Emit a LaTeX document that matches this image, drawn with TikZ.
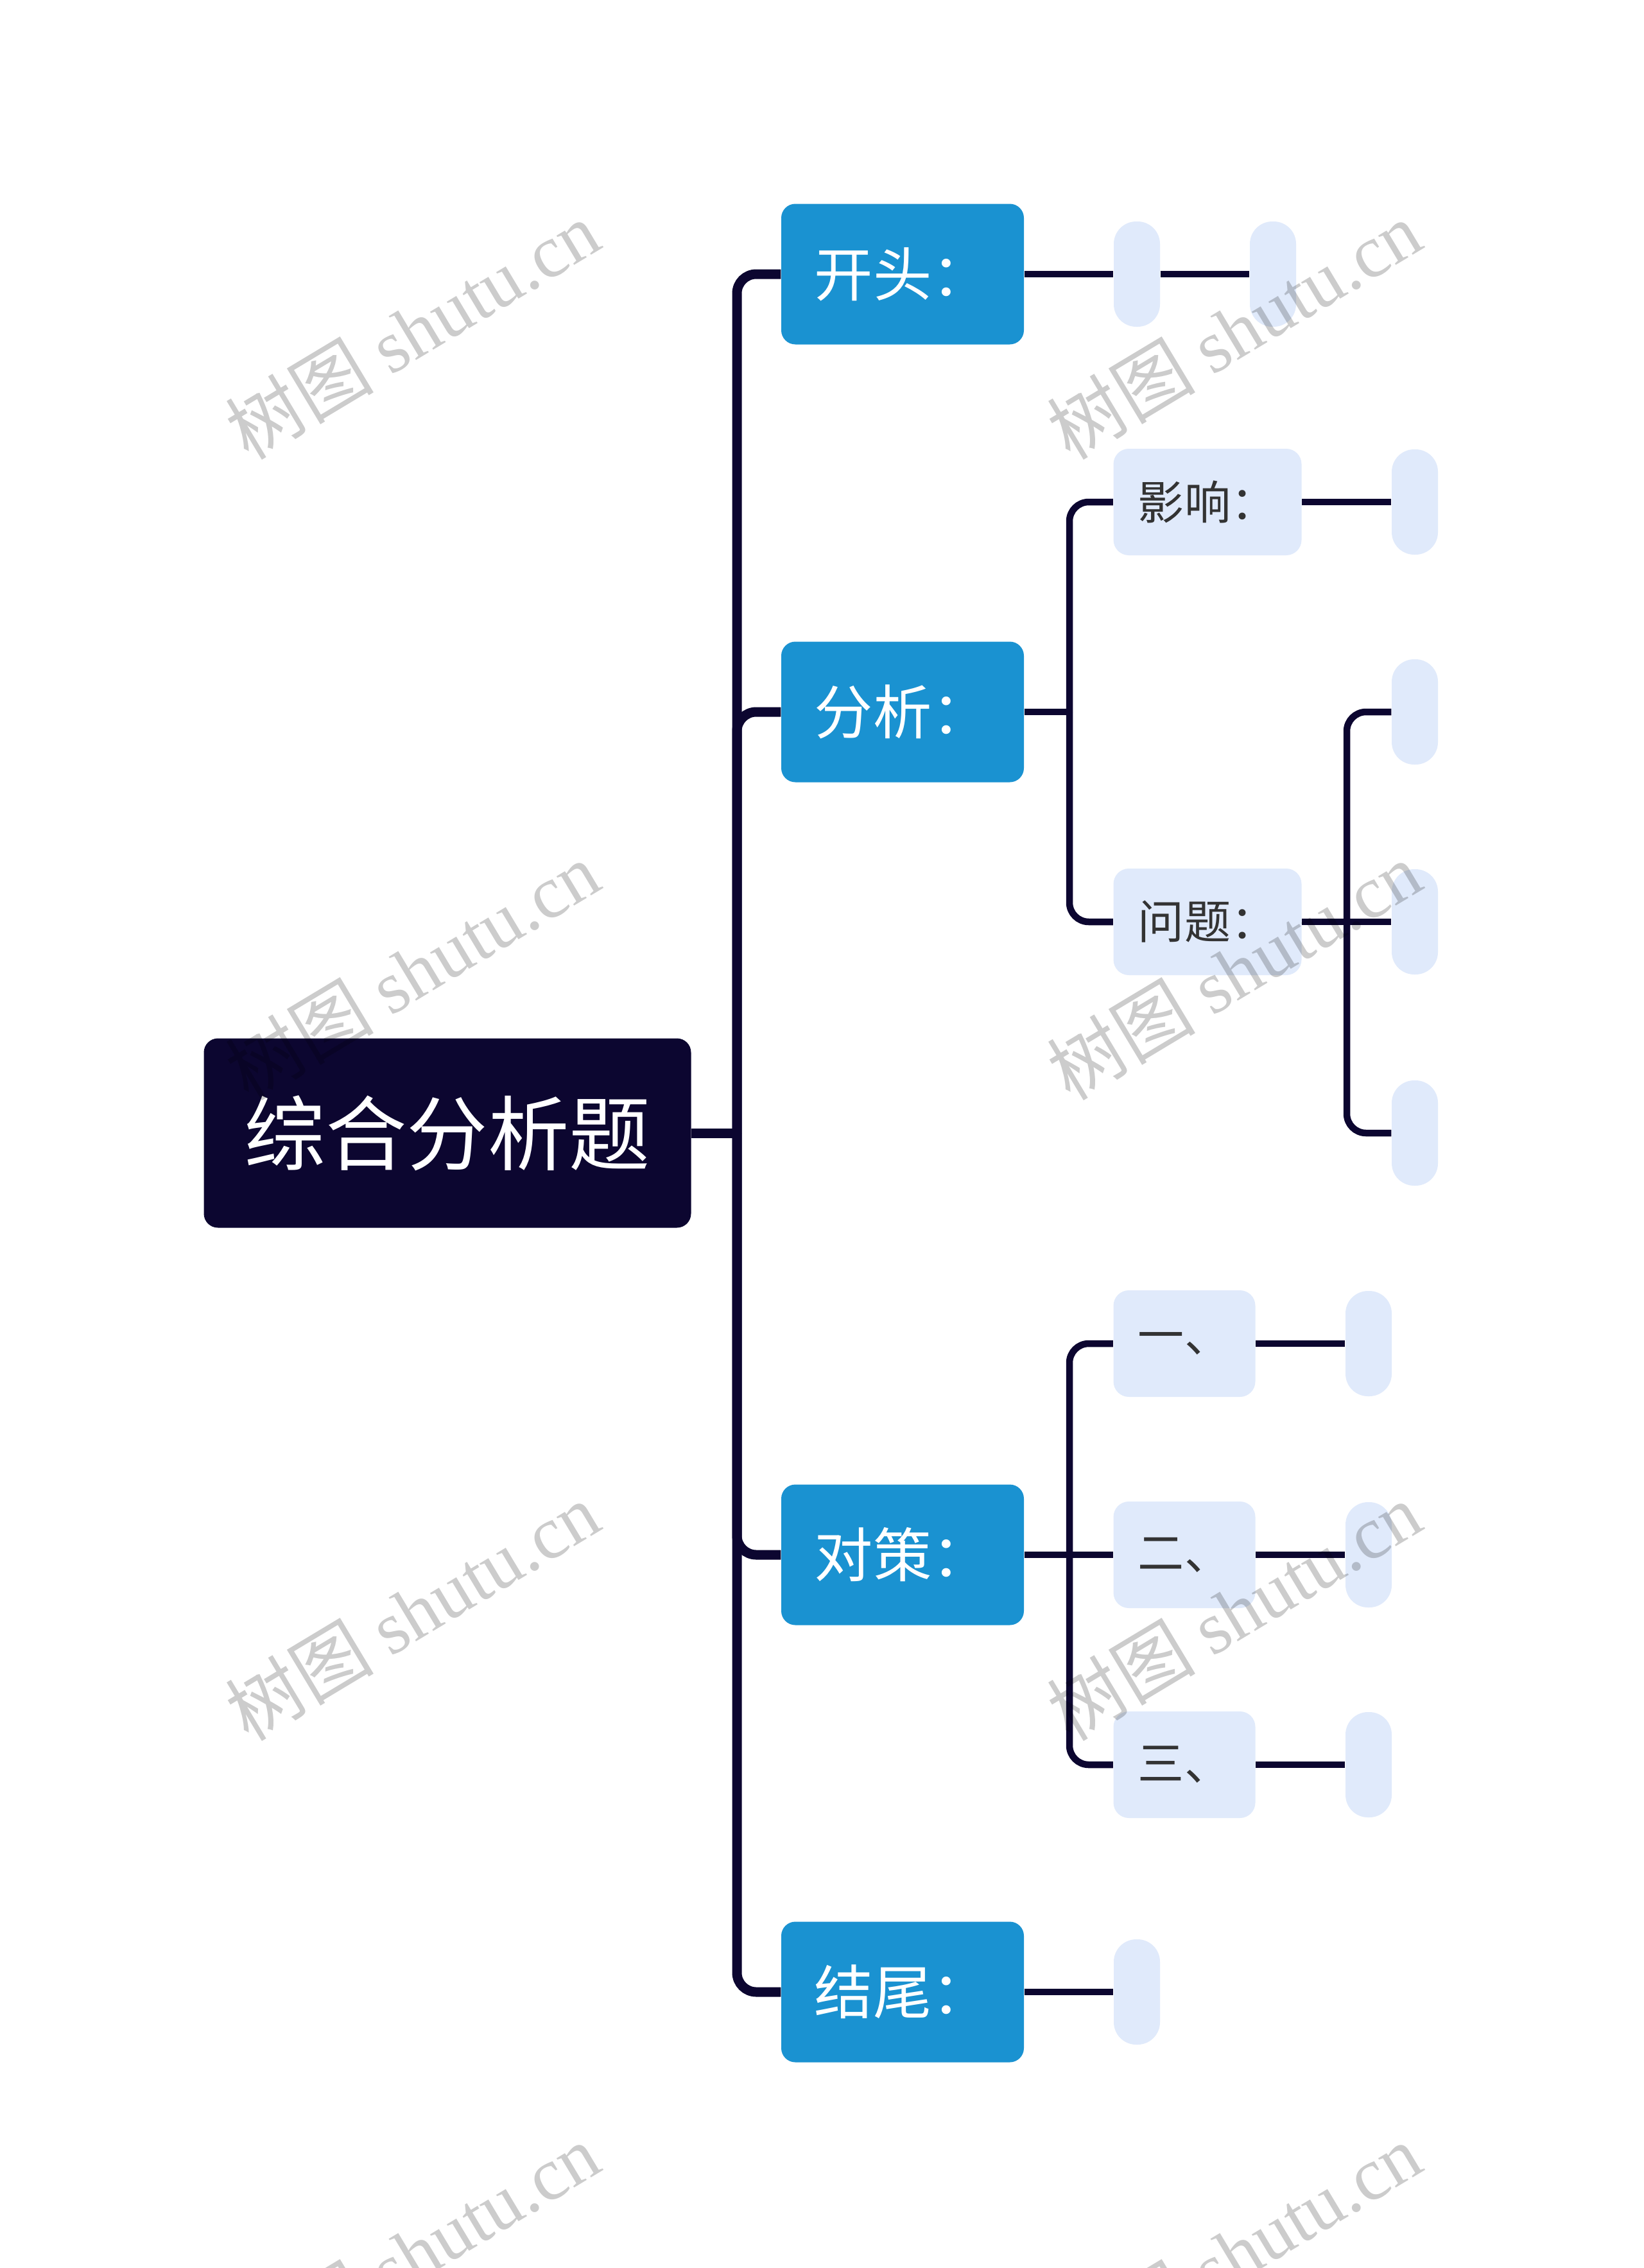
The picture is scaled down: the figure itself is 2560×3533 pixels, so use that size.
\documentclass[tikz,border=0pt]{standalone}
\usepackage{fontspec}
\setmainfont{Noto Sans CJK SC}
\newfontfamily\wmcjk{Noto Sans CJK SC}
\newfontfamily\wmlat{Liberation Serif}
\definecolor{dark}{HTML}{0C0630}
\definecolor{mainblue}{HTML}{1A92D1}
\definecolor{lightbox}{HTML}{E0EAFB}
\definecolor{subtext}{HTML}{333333}
\tikzset{
  rootbox/.style={fill=dark, rounded corners=2.2mm, minimum width=75.9mm, minimum height=29.5mm, inner sep=0pt, text=white, font=\fontsize{36}{40}\selectfont},
  lonebox/.style={fill=mainblue, rounded corners=2.2mm, minimum width=37.8mm, minimum height=21.9mm, inner sep=0pt, text=white, font=\fontsize{26}{30}\selectfont},
  ltwobox/.style={fill=lightbox, rounded corners=2.4mm, minimum height=16.6mm, inner sep=0pt, text=subtext, font=\fontsize{20.5}{24}\selectfont},
  emptybox/.style={fill=lightbox, rounded corners=3.5mm, minimum width=7.2mm, minimum height=16.4mm, inner sep=0pt},
  trunk/.style={draw=dark, line width=1.5mm},
  branch/.style={draw=dark, line width=1.05mm},
  wmark/.style={rotate=31, text=black, opacity=0.2, font=\fontsize{33}{38}\selectfont}
}
\begin{document}
\begin{tikzpicture}[x=0.1mm, y=-0.1mm]
\useasboundingbox[fill=white] (0,0) rectangle (2560,3533);

% root and level 1
\node[rootbox] (root) at (697,1765) {综合分析题};
\coordinate (t0) at (1148,1765);
\node[lonebox] (kt) at (1406,427) {开头：};
\node[lonebox] (fx) at (1406,1109) {分析：};
\node[lonebox] (dc) at (1406,2422) {对策：};
\node[lonebox] (jw) at (1406,3103) {结尾：};

\draw[trunk] (root.east) -- (t0);
\draw[trunk, rounded corners=3mm] (t0) |- (kt.west);
\draw[trunk, rounded corners=3mm] (t0) |- (fx.west);
\draw[trunk, rounded corners=3mm] (t0) |- (dc.west);
\draw[trunk, rounded corners=3mm] (t0) |- (jw.west);

% 开头
\node[emptybox] (kt1) at (1771,427) {};
\node[emptybox] (kt2) at (1983,427) {};
\draw[branch] (kt.east) -- (kt1.west);
\draw[branch] (kt1.east) -- (kt2.west);

% 分析
\coordinate (f0) at (1666,1109);
\node[ltwobox, minimum width=29.3mm] (yx) at (1881,782) {影响：};
\node[ltwobox, minimum width=29.3mm] (wt) at (1881,1436) {问题：};
\draw[branch] (fx.east) -- (f0);
\draw[branch, rounded corners=3mm] (f0) |- (yx.west);
\draw[branch, rounded corners=3mm] (f0) |- (wt.west);
\node[emptybox] (yx1) at (2204,782) {};
\draw[branch] (yx.east) -- (yx1.west);
\coordinate (w0) at (2098,1436);
\node[emptybox] (wt1) at (2204,1109) {};
\node[emptybox] (wt2) at (2204,1436) {};
\node[emptybox] (wt3) at (2204,1765) {};
\draw[branch] (wt.east) -- (w0);
\draw[branch, rounded corners=3mm] (w0) |- (wt1.west);
\draw[branch] (w0) -- (wt2.west);
\draw[branch, rounded corners=3mm] (w0) |- (wt3.west);

% 对策
\coordinate (d0) at (1666,2422);
\node[ltwobox, minimum width=22.1mm] (d1) at (1845,2093) {一、};
\node[ltwobox, minimum width=22.1mm] (d2) at (1845,2422) {二、};
\node[ltwobox, minimum width=22.1mm] (d3) at (1845,2749) {三、};
\draw[branch] (dc.east) -- (d0);
\draw[branch, rounded corners=3mm] (d0) |- (d1.west);
\draw[branch] (d0) -- (d2.west);
\draw[branch, rounded corners=3mm] (d0) |- (d3.west);
\node[emptybox] (d1e) at (2132,2093) {};
\node[emptybox] (d2e) at (2132,2422) {};
\node[emptybox] (d3e) at (2132,2749) {};
\draw[branch] (d1.east) -- (d1e.west);
\draw[branch] (d2.east) -- (d2e.west);
\draw[branch] (d3.east) -- (d3e.west);

% 结尾
\node[emptybox] (jw1) at (1771,3103) {};
\draw[branch] (jw.east) -- (jw1.west);

% watermarks
\foreach \wx/\wy/\wn in {642/514/a, 1922/514/b, 642/1512/c, 1922/1512/d, 642/2510/e, 1922/2510/f, 642/3509/g, 1922/3509/h}{
  \node[wmark] (wm\wn) at (\wx,\wy) {\wmcjk 树图 \wmlat shutu.cn};
}
\end{tikzpicture}
\end{document}
